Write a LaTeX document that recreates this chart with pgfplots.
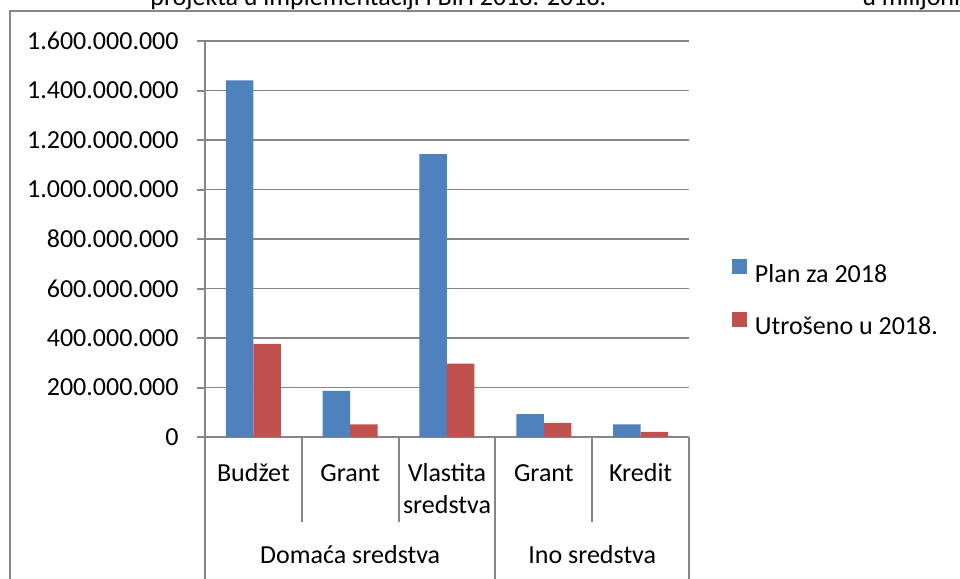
\documentclass[border=0pt]{standalone}
\usepackage{fontspec}
\setmainfont{Carlito}
\usepackage{pgfplots}
\pgfplotsset{compat=1.18}
\definecolor{planblue}{HTML}{4F81BD}
\definecolor{usedred}{HTML}{C0504D}
\definecolor{axgray}{HTML}{868686}
\begin{document}
\fontsize{13}{15.6}\selectfont
\begin{tikzpicture}[font=\fontsize{13}{15.6}\selectfont]
\useasboundingbox (0pt,0pt) rectangle (480pt,289.5pt);
\begin{scope}
\clip (0pt,284.5pt) rectangle (480pt,289.5pt);
\node[anchor=base west, inner sep=0pt] at (75pt,286.75pt) {projekta u implementaciji FBiH 2018. 2018.};
\node[anchor=base west, inner sep=0pt] at (431pt,286.75pt) {u milijonima KM};
\end{scope}
\draw[axgray, line width=0.75pt] (5pt,0pt) -- (5pt,284pt) -- (480pt,284pt);
\begin{axis}[
  at={(102.5pt,71pt)}, anchor=south west,
  scale only axis, width=242pt, height=198pt,
  xmin=-0.5, xmax=4.5, ymin=0, ymax=1600000000,
  axis x line*=bottom, axis y line*=left,
  axis line style={axgray, line width=1pt},
  xtick=\empty,
  ytick={0,200000000,400000000,600000000,800000000,1000000000,1200000000,1400000000,1600000000},
  ymajorgrids, grid style={axgray, line width=0.75pt},
  tick align=outside, major tick length=4pt, tick style={axgray, line width=1pt},
  scaled y ticks=false,
  /pgf/number format/fixed, /pgf/number format/precision=0,
  /pgf/number format/1000 sep={.}, /pgf/number format/assume math mode=true,
  yticklabel style={inner sep=0pt, anchor=east, xshift=-9pt},
  ybar=0pt, bar width=13.75pt,
  clip=false,
  legend style={at={(1.088,0.354)}, anchor=west, draw=none, fill=none, inner sep=0pt,
    row sep=14.75pt, nodes={inner sep=0pt, text height=9pt, text depth=0pt}},
  legend cell align=left,
  /tikz/every odd column/.append style={column sep=4pt},
]
\addplot[fill=planblue, draw=none,
  legend image code/.code={\fill[planblue] (0pt,-0.5pt) rectangle (7.5pt,7pt);}]
  coordinates {(0,1441000000) (1,186000000) (2,1143000000) (3,92000000) (4,51000000)};
\addplot[fill=usedred, draw=none,
  legend image code/.code={\fill[usedred] (0pt,-0.5pt) rectangle (7.5pt,7pt);}]
  coordinates {(0,376000000) (1,51000000) (2,296000000) (3,57000000) (4,21000000)};
\legend{Plan za 2018, Utrošeno u 2018.}
% category separators
\draw[axgray, line width=1pt] (axis cs:-0.5,0) -- ++(0pt,-71pt);
\draw[axgray, line width=1pt] (axis cs:0.5,0) -- ++(0pt,-42.35pt);
\draw[axgray, line width=1pt] (axis cs:1.5,0) -- ++(0pt,-42.35pt);
\draw[axgray, line width=1pt] (axis cs:2.5,0) -- ++(0pt,-71pt);
\draw[axgray, line width=1pt] (axis cs:3.5,0) -- ++(0pt,-42.35pt);
\draw[axgray, line width=1pt] (axis cs:4.5,0) -- ++(0pt,-71pt);
% category labels
\node[anchor=base, inner sep=0pt, yshift=-22pt] at (axis cs:0,0) {Budžet};
\node[anchor=base, inner sep=0pt, yshift=-22pt] at (axis cs:1,0) {Grant};
\node[anchor=base, inner sep=0pt, yshift=-22pt] at (axis cs:2,0) {Vlastita};
\node[anchor=base, inner sep=0pt, yshift=-38pt] at (axis cs:2,0) {sredstva};
\node[anchor=base, inner sep=0pt, yshift=-22pt] at (axis cs:3,0) {Grant};
\node[anchor=base, inner sep=0pt, yshift=-22pt] at (axis cs:4,0) {Kredit};
\node[anchor=base, inner sep=0pt, yshift=-63pt] at (axis cs:1,0) {Domaća sredstva};
\node[anchor=base, inner sep=0pt, yshift=-63pt] at (axis cs:3.5,0) {Ino sredstva};
\end{axis}
\end{tikzpicture}
\end{document}
